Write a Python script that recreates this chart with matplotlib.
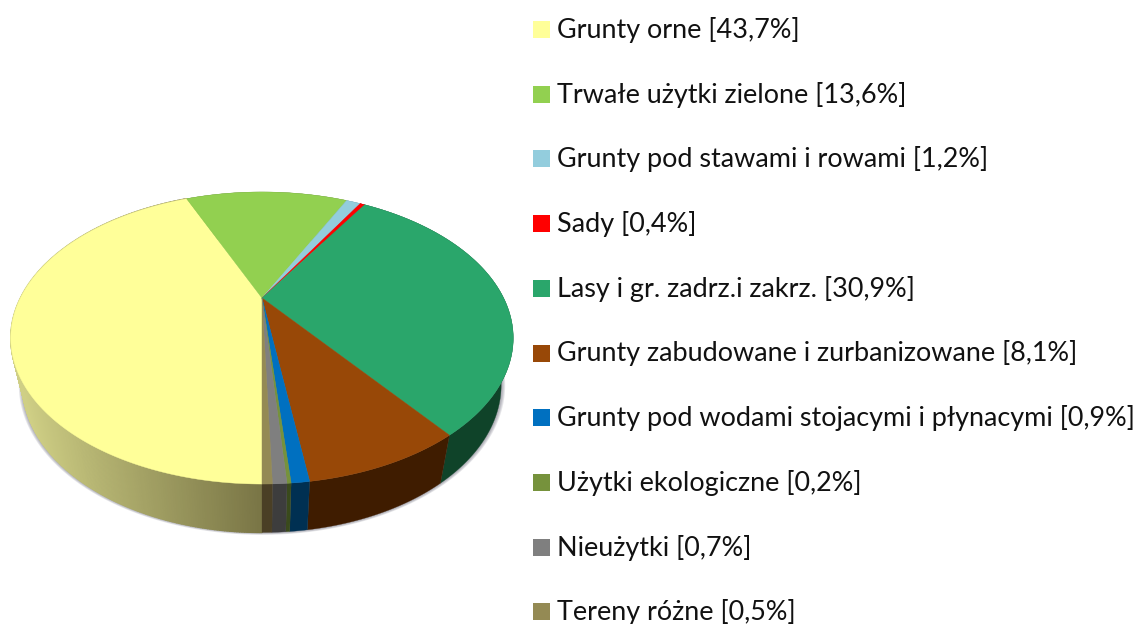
import numpy as np
import matplotlib
matplotlib.use("Agg")
import matplotlib.pyplot as plt
from matplotlib.colors import to_rgb
from matplotlib.patches import Rectangle

labels = [
    "Grunty orne [43,7%]",
    "Trwałe użytki zielone [13,6%]",
    "Grunty pod stawami i rowami [1,2%]",
    "Sady [0,4%]",
    "Lasy i gr. zadrz.i zakrz. [30,9%]",
    "Grunty zabudowane i zurbanizowane [8,1%]",
    "Grunty pod wodami stojacymi i płynacymi [0,9%]",
    "Użytki ekologiczne [0,2%]",
    "Nieużytki [0,7%]",
    "Tereny różne [0,5%]",
]
values = [43.7, 13.6, 1.2, 0.4, 30.9, 8.1, 0.9, 0.2, 0.7, 0.5]
top_colors = ["#FFFF99", "#92D050", "#93CDDD", "#FF0000", "#2AA66B",
              "#984807", "#0070C0", "#76923C", "#7F7F7F", "#948A54"]
side_colors = ["#7A7646", "#4F6F2A", "#4F7480", "#800000", "#0F4329",
               "#3F1C00", "#003052", "#3A4A1C", "#3D3D3D", "#4A3F25"]

START_ANGLE = 180.0  # pierwszy wycinek zaczyna sie na dole


def top_face(angle):
    """Rzut perspektywiczny punktu na obwodzie (kat od gory, zgodnie z zegarem)."""
    u = np.sin(np.radians(angle))
    v = np.cos(np.radians(angle))
    den = 1 + 0.274 * v
    return 262 + 241.6 * u / den, (298 - 53.4 * v) / den


def bottom_face(angle, grow=0.0):
    """Dolna krawedz bryly - nieco mniejsza elipsa przesunieta w dol."""
    x, y = top_face(angle)
    return 262 + (0.952 + grow) * (x - 262), 385 + (1.01 + grow) * (y - 338)


fig = plt.figure(figsize=(11.42, 6.24), dpi=100)
ax = fig.add_axes([0, 0, 1, 1])
ax.set_xlim(0, 1142)
ax.set_ylim(624, 0)
ax.axis("off")

edges = START_ANGLE + np.cumsum([0] + values) / sum(values) * 360

# cien pod bryla
circle = np.linspace(0, 360, 361)
for grow in [0.016, 0.012, 0.008, 0.004]:
    sx, sy = bottom_face(circle, grow)
    ax.fill(sx, sy, color="#606070", alpha=0.16, lw=0)

# sciana boczna
for i in range(len(values)):
    arc = np.linspace(edges[i], edges[i + 1], max(int(values[i] * 8), 6))
    tx, ty = top_face(arc)
    bx, by = bottom_face(arc[::-1])
    if i > 0:
        ax.fill(np.r_[tx, bx], np.r_[ty, by], color=side_colors[i], lw=0.2)
        continue
    # zolta sciana ma gradient od lewej do prawej
    c0 = np.array(to_rgb("#CFCF85"))
    c1 = np.array(to_rgb(side_colors[0]))
    for a0, a1 in zip(arc[:-1], arc[1:]):
        qx, qy = top_face(np.array([a0, a1]))
        rx, ry = bottom_face(np.array([a1, a0]))
        f = np.clip((qx[0] - 20) / 240, 0, 1)
        ax.fill(np.r_[qx, rx], np.r_[qy, ry], color=c0 + (c1 - c0) * f, lw=1.0)

# wierzch
for i in range(len(values)):
    arc = np.linspace(edges[i], edges[i + 1], max(int(values[i] * 8), 6))
    x, y = top_face(arc)
    ax.fill(np.r_[262, x], np.r_[298, y], color=top_colors[i], lw=0.3)

# legenda
for i, label in enumerate(labels):
    row_y = 29.5 + i * 64.7
    ax.add_patch(Rectangle((533, row_y - 8.5), 17, 17, color=top_colors[i], lw=0))
    ax.text(557, row_y + 0.5, label, fontsize=19.45, family=["Lato", "DejaVu Sans"],
            color="#111111", va="center", ha="left")

fig.savefig("out.png", dpi=100)
